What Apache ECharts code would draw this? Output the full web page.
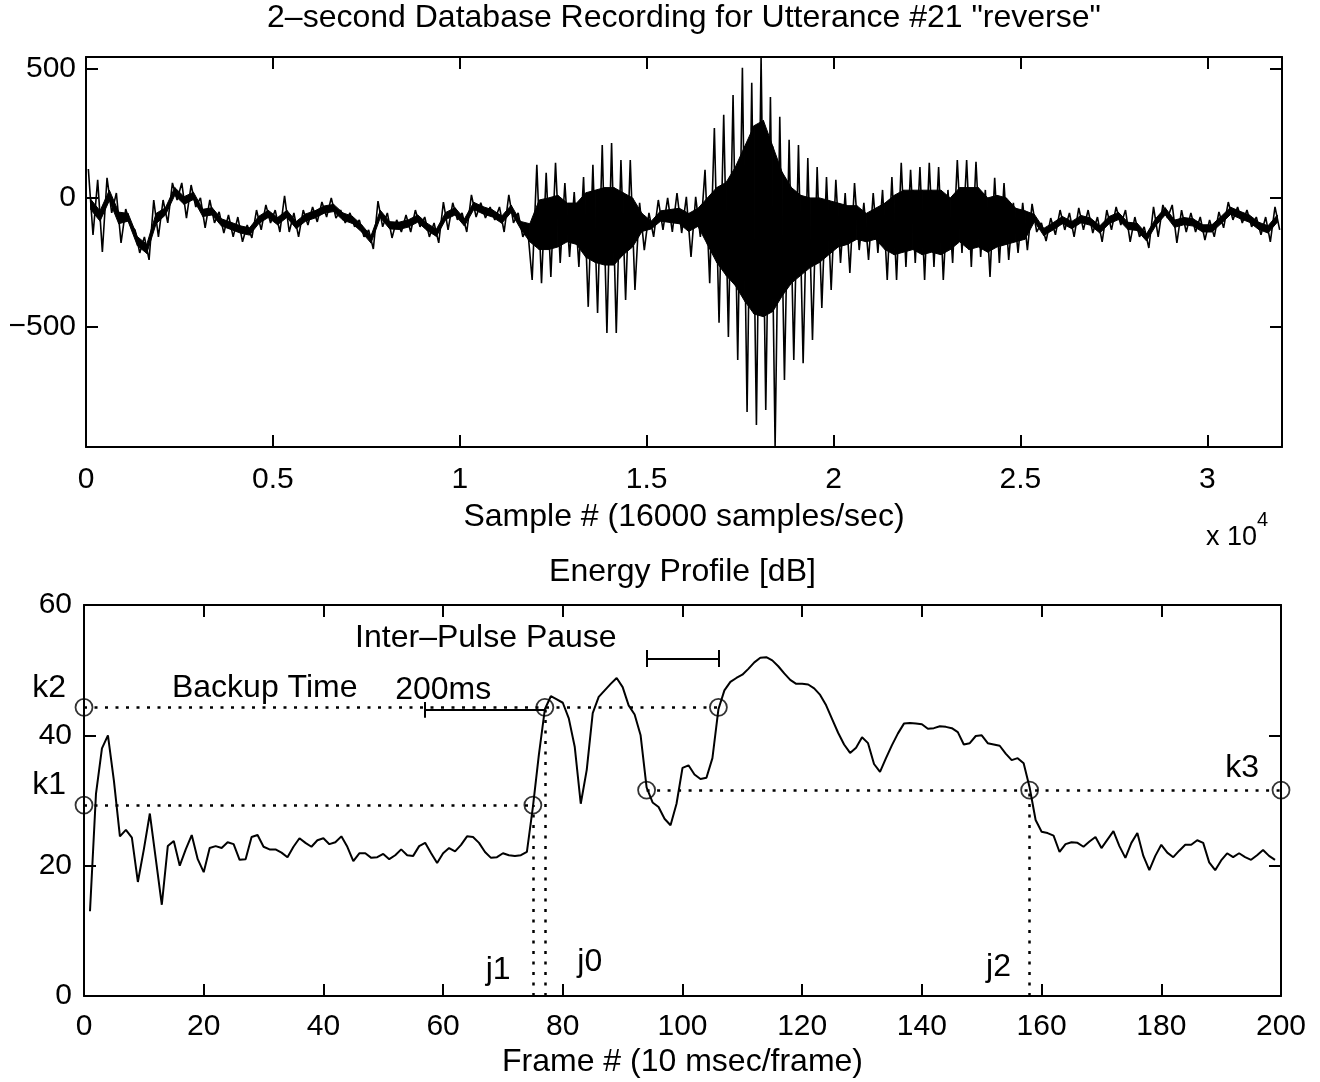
<!DOCTYPE html>
<html><head><meta charset="utf-8">
<script src="https://cdn.jsdelivr.net/npm/echarts@6/dist/echarts.min.js"></script>
<style>html,body{margin:0;padding:0;background:#fff}#c{width:1320px;height:1082px}</style>
</head><body><div id="c"></div>
<script>
// ---------- DATA ----------
// Top: waveform read per bin of 250 samples: spike extremes (hi/lo) and dense core band (coreHi/coreLo)
const waveBin = 250;
const waveHi = [112,70,78,19,-43,-124,-151,-8,-8,58,58,50,0,-8,-54,-66,-74,-105,-47,-27,
  -47,8,-58,-47,-35,-16,0,-47,-58,-85,-124,-12,-58,-85,-66,-47,-74,-97,-16,-19,
  -58,12,-19,-35,-35,12,-58,-112,128,97,136,58,23,81,128,205,213,147,147,-19,
  -58,-8,0,19,4,4,109,271,322,399,504,446,546,391,314,225,205,155,120,81,
  70,19,58,-19,19,31,81,136,109,120,136,120,31,147,147,140,31,78,58,-19,
  -19,-23,-97,-78,-47,-58,-39,-47,-74,-47,-35,-47,-74,-112,-35,-27,-27,-47,-58,-74,
  -85,-54,-16,-35,-47,-74,-74,-35];
const waveLo = [-143,-209,-58,-174,-105,-213,-240,-151,-97,-8,-78,-35,-116,-97,-136,-151,-170,-155,-124,-97,
  -132,-132,-151,-105,-93,-74,-78,-97,-112,-151,-198,-112,-155,-132,-132,-112,-151,-174,-124,-85,
  -132,-74,-78,-85,-132,-97,-151,-318,-330,-306,-252,-229,-267,-422,-446,-523,-523,-395,-357,-202,
  -151,-124,-132,-136,-229,-151,-330,-484,-539,-628,-829,-880,-822,-965,-705,-628,-640,-550,-426,-357,
  -252,-291,-202,-240,-213,-318,-318,-267,-252,-318,-267,-318,-252,-213,-267,-229,-306,-252,-240,-213,
  -202,-132,-167,-143,-124,-151,-124,-136,-170,-124,-105,-170,-151,-194,-151,-78,-174,-132,-132,-163,
  -151,-116,-85,-97,-112,-143,-170,-124];
const coreHi = [-5,-50,30,-55,-60,-150,-180,-60,-38,40,5,22,-44,-38,-81,-94,-108,-116,-71,-48,
  -76,-48,-91,-62,-50,-31,-25,-58,-71,-104,-147,-48,-92,-94,-85,-66,-98,-121,-56,-38,
  -81,-17,-34,-46,-70,-28,-91,-100,-8,0,10,-20,-20,20,30,40,40,20,0,-60,
  -90,-50,-45,-40,-60,-40,0,40,60,120,200,280,300,200,100,40,10,0,0,-10,
  -20,-30,-30,-60,-40,-20,10,30,30,30,30,30,0,40,40,40,0,10,0,-40,
  -50,-64,-118,-96,-72,-91,-68,-78,-108,-72,-56,-94,-98,-139,-79,-38,-86,-76,-81,-104,
  -104,-71,-36,-52,-66,-94,-108,-66];
const coreLo = [-45,-90,-10,-100,-90,-185,-215,-100,-66,10,-25,-6,-72,-66,-109,-122,-136,-144,-99,-76,
  -104,-76,-119,-90,-78,-59,-53,-86,-99,-132,-175,-76,-120,-122,-113,-94,-126,-149,-84,-66,
  -109,-45,-62,-74,-98,-56,-119,-170,-200,-200,-190,-170,-180,-230,-250,-260,-260,-220,-190,-130,
  -120,-90,-95,-100,-130,-110,-180,-250,-300,-340,-400,-450,-460,-440,-380,-330,-300,-270,-250,-220,
  -190,-180,-160,-170,-160,-200,-220,-210,-200,-220,-210,-220,-200,-170,-200,-190,-210,-190,-180,-170,
  -160,-92,-146,-124,-100,-119,-96,-106,-136,-100,-84,-122,-126,-167,-107,-66,-114,-104,-109,-132,
  -132,-99,-64,-80,-94,-122,-136,-94];
const sampleTicks = [0,5000,10000,15000,20000,25000,30000];
const ampTicks = [-500,0,500];

// Bottom: energy profile [dB], frames 1..199
const energyDb = [13,31,38,40,33,24.5,25.5,24.3,17.5,22.5,
  28,21,14,23,23.8,20,22.5,24.7,21,19,
  22.7,23,22.7,23.6,23.3,20.9,21,24.4,24.7,22.9,
  22.5,22.5,22,21.3,22.9,24.2,23.5,22.9,23.9,24.2,
  23.3,23.6,24.5,22.9,20.7,21.9,21.9,21.2,21.3,21.8,
  21,21.6,22.5,21.6,21.5,23,23.5,21.9,20.4,21.9,
  22.7,22.2,23.2,24.5,24.4,23.5,22.1,21.2,21.3,21.9,
  21.6,21.5,21.6,22.1,29,37,44,46,45.5,45,
  42.6,38.2,29.5,34.7,43.4,45.9,46.9,47.9,48.8,47.4,
  44.6,43.2,40,32,29.7,29,27.2,26.2,29.5,35,
  35.4,34,33.3,33.5,36.5,44,46.9,48.2,48.8,49.3,
  50.2,51.2,51.9,52,51.5,50.6,49.5,48.5,47.9,47.9,
  47.8,47.2,46.2,44.6,42.5,40.4,38.6,37.3,38.1,39.7,
  38.8,35.6,34.4,36.5,38.5,40.3,41.8,41.9,41.8,41.7,
  41,41.1,41.4,41.3,41.1,40.5,38.6,38.8,39.9,40,
  38.8,38.6,38.4,37.2,36.2,36.5,35.7,32,27,25.2,
  25,24.6,22.1,23.3,23.6,23.5,22.9,23.7,24.4,22.7,
  24,25.3,23,21.2,23.5,25,21.5,19.3,21.5,23.2,
  22,21.3,22.3,23.2,23.2,23.9,23.5,20.5,19.3,20.8,
  21.9,21.3,21.9,21.3,20.9,21.6,22.4,21.5,20.9];
const k1 = 29.3, k2 = 44.3, k3 = 31.6;
const j1 = 75, j0 = 77, j2 = 158;
const pauseStart = 94, pauseEnd = 106, pauseLevel = 51.8;
const backupStart = 57, backupLevel = 43.9;
const circlePts = [[0,k2],[0,k1],[j1,k1],[j0,k2],[pauseStart,k3],[pauseEnd,k2],[j2,k3],[200,k3]];

// ---------- CHART ----------
const FONT = '"Liberation Sans", Arial, Helvetica, sans-serif';
const waveData = [];
for (let i = 0; i < waveHi.length; i++) {
  waveData.push([i * waveBin + waveBin * 0.25, waveHi[i]]);
  waveData.push([i * waveBin + waveBin * 0.75, waveLo[i]]);
}
const coreData = coreHi.map((v, i) => [i * waveBin + waveBin * 0.5, v, coreLo[i]]);
const energyData = energyDb.map((v, i) => [i + 1, v]);

const axLine = {show: true, onZero: false, lineStyle: {color: '#000', width: 2}};
const tick = (vals) => Object.assign({show: true, inside: true, length: 12, lineStyle: {color: '#000', width: 2}}, vals ? {customValues: vals} : {});
const lbl = {color: '#000', fontSize: 30, fontFamily: FONT};
const minus = v => v < 0 ? '\u2212' + (-v) : String(v);

const dot = {type: [3, 7.5], width: 2.5, color: '#000'};
const solid = {type: 'solid', width: 2, color: '#000'};
const seg = (a, b, st) => [{coord: a, lineStyle: st}, {coord: b}];

function renderCore(params, api) {
  const i = params.dataIndex;
  if (i >= coreData.length - 1) return null;
  const a = coreData[i], b = coreData[i + 1];
  const pts = [api.coord([a[0], a[1]]), api.coord([b[0], b[1]]), api.coord([b[0], b[2]]), api.coord([a[0], a[2]])];
  return {type: 'polygon', shape: {points: pts}, style: {fill: '#000', stroke: '#000', lineWidth: 1}};
}

const option = {
  animation: false,
  backgroundColor: '#fff',
  grid: [
    {left: 86, top: 57, width: 1196, height: 390},
    {left: 84, top: 605, width: 1197, height: 391}
  ],
  xAxis: [
    {gridIndex: 0, type: 'value', min: 0, max: 32000, axisLine: axLine, axisTick: tick(sampleTicks),
      axisLabel: Object.assign({margin: 18, customValues: sampleTicks, formatter: v => String(v / 10000)}, lbl), splitLine: {show: false}},
    {gridIndex: 0, type: 'value', position: 'top', min: 0, max: 32000, axisLine: axLine, axisTick: tick(sampleTicks),
      axisLabel: {show: false}, splitLine: {show: false}},
    {gridIndex: 1, type: 'value', min: 0, max: 200, interval: 20, axisLine: axLine, axisTick: tick(),
      axisLabel: Object.assign({margin: 16}, lbl), splitLine: {show: false}},
    {gridIndex: 1, type: 'value', position: 'top', min: 0, max: 200, interval: 20, axisLine: axLine, axisTick: tick(),
      axisLabel: {show: false}, splitLine: {show: false}}
  ],
  yAxis: [
    {gridIndex: 0, type: 'value', min: -965, max: 546, axisLine: axLine, axisTick: tick(ampTicks),
      axisLabel: Object.assign({margin: 10, customValues: ampTicks, formatter: minus}, lbl), splitLine: {show: false}},
    {gridIndex: 0, type: 'value', position: 'right', min: -965, max: 546, axisLine: axLine, axisTick: tick(ampTicks),
      axisLabel: {show: false}, splitLine: {show: false}},
    {gridIndex: 1, type: 'value', min: 0, max: 60, interval: 20, axisLine: axLine, axisTick: tick(),
      axisLabel: Object.assign({margin: 12}, lbl), splitLine: {show: false}},
    {gridIndex: 1, type: 'value', position: 'right', min: 0, max: 60, interval: 20, axisLine: axLine, axisTick: tick(),
      axisLabel: {show: false}, splitLine: {show: false}}
  ],
  series: [
    {type: 'custom', xAxisIndex: 0, yAxisIndex: 0, data: coreData, renderItem: renderCore,
      encode: {x: 0, y: [1, 2]}, silent: true, clip: true},
    {type: 'line', xAxisIndex: 0, yAxisIndex: 0, data: waveData, symbol: 'none', showSymbol: false,
      lineStyle: {color: '#000', width: 1.6}, silent: true},
    {type: 'line', xAxisIndex: 2, yAxisIndex: 2, data: energyData, symbol: 'none', showSymbol: false,
      lineStyle: {color: '#000', width: 2}, silent: true, z: 3,
      markLine: {silent: true, symbol: ['none', 'none'], label: {show: false}, animation: false,
        data: [
          seg([0, k2], [pauseEnd, k2], dot),
          seg([0, k1], [j1, k1], dot),
          seg([pauseStart, k3], [200, k3], dot),
          seg([j1, 0], [j1, k1], dot),
          seg([j0, 0], [j0, k2], dot),
          seg([j2, 0], [j2, k3], dot),
          seg([backupStart, backupLevel], [j0, backupLevel], solid),
          seg([backupStart, backupLevel - 1.2], [backupStart, backupLevel + 1.2], solid),
          seg([pauseStart, pauseLevel], [pauseEnd, pauseLevel], solid),
          seg([pauseStart, pauseLevel - 1.3], [pauseStart, pauseLevel + 1.3], solid),
          seg([pauseEnd, pauseLevel - 1.3], [pauseEnd, pauseLevel + 1.3], solid)
        ]}},
    {type: 'scatter', xAxisIndex: 2, yAxisIndex: 2, data: circlePts, symbol: 'circle', symbolSize: 17, clip: false,
      itemStyle: {color: 'rgba(255,255,255,0)', borderColor: '#000', borderWidth: 1.8}, silent: true, z: 5}
  ]
};

const chart = echarts.init(document.getElementById('c'), null, {renderer: 'canvas'});
chart.setOption(option);

const P0 = (x, y) => chart.convertToPixel({xAxisIndex: 0, yAxisIndex: 0}, [x, y]);
const P1 = (x, y) => chart.convertToPixel({xAxisIndex: 2, yAxisIndex: 2}, [x, y]);
function txt(t, p, size, align) {
  return {type: 'text', x: p[0], y: p[1], silent: true, z: 10,
    style: {text: t, font: size + 'px ' + FONT, fill: '#000',
      align: align || 'center', textAlign: align || 'center', verticalAlign: 'middle', textVerticalAlign: 'middle'}};
}
const tl = P0(0, 546), br = P0(32000, -965);
const cx0 = (tl[0] + br[0]) / 2;
const tl1 = P1(0, 60), br1 = P1(200, 0);
const cx1 = (tl1[0] + br1[0]) / 2;

const annotations = [
  ['k2', -3, 47.2, 'right'],
  ['k1', -3, 32.4, 'right'],
  ['k3', 193.5, 35, 'center'],
  ['Backup Time', 14.7, 47.2, 'left'],
  ['200ms', 52, 47, 'left'],
  ['Inter\u2013Pulse Pause', 45.3, 54.9, 'left'],
  ['j1', 69.2, 4, 'center'],
  ['j0', 84.5, 5.2, 'center'],
  ['j2', 152.8, 4.5, 'center']
];
const g = [
  txt('2\u2013second Database Recording for Utterance #21 "reverse"', [cx0, tl[1] - 39], 32),
  txt('Sample # (16000 samples/sec)', [cx0, br[1] + 70], 32),
  txt('x 10', [br[0] - 76, br[1] + 91], 27, 'left'),
  txt('4', [br[0] - 25, br[1] + 73], 20, 'left'),
  txt('Energy Profile [dB]', [cx1, tl1[1] - 33], 32),
  txt('Frame # (10 msec/frame)', [cx1, br1[1] + 66], 32)
];
annotations.forEach(a => g.push(txt(a[0], P1(a[1], a[2]), 32, a[3])));
chart.setOption({graphic: g});
</script>
</body></html>
